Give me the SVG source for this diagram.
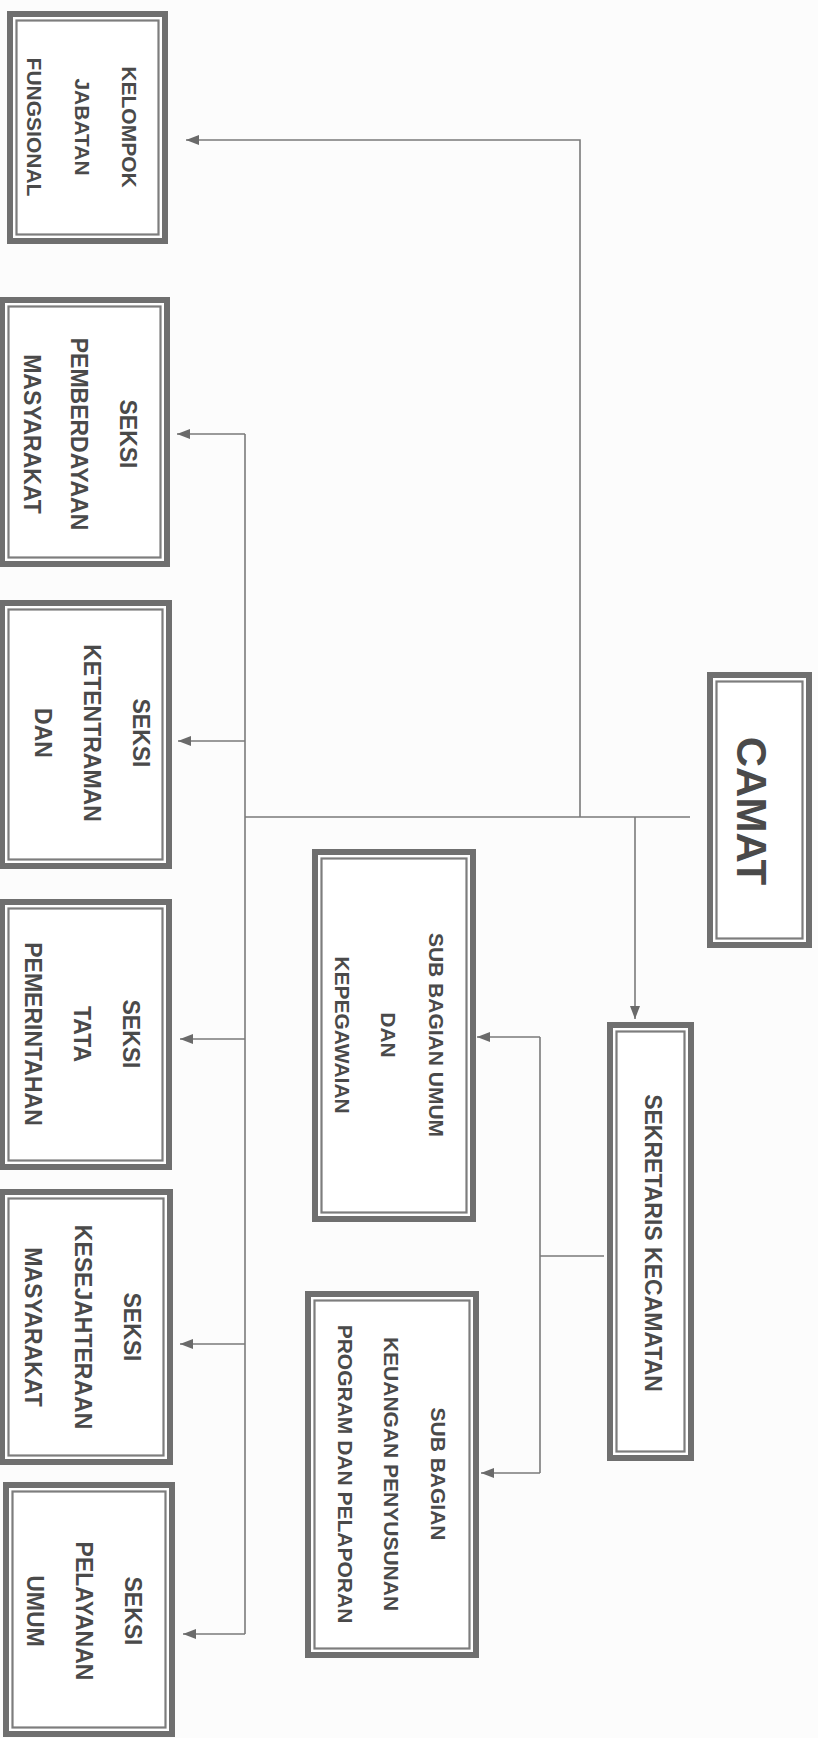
<svg xmlns="http://www.w3.org/2000/svg" width="818" height="1738" viewBox="0 0 818 1738">
<style>
.bo{fill:#fff;stroke:#6f6f6f;stroke-width:6}
.bi{fill:none;stroke:#7d7d7d;stroke-width:2.2}
.t{font-family:"Liberation Sans",Arial,sans-serif;font-weight:bold;fill:#4a4a4a;text-anchor:middle}
.s21{font-size:21px}.s23{font-size:23px}
.c{fill:none;stroke:#7a7a7a;stroke-width:1.6}
</style>
<defs>
<marker id="ah" markerUnits="userSpaceOnUse" markerWidth="14" markerHeight="12" refX="13" refY="5" orient="auto">
<path d="M0,0 L13,5 L0,10 Z" fill="#6a6a6a"/>
</marker>
</defs>
<rect x="0" y="0" width="818" height="1738" fill="#fcfcfc"/>

<g id="connectors">
<path class="c" d="M690,817 H245"/>
<path class="c" d="M580,817 V140 H186" marker-end="url(#ah)"/>
<path class="c" d="M245,434 V1634"/>
<path class="c" d="M245,434 H177" marker-end="url(#ah)"/>
<path class="c" d="M245,741 H178" marker-end="url(#ah)"/>
<path class="c" d="M245,1039 H180" marker-end="url(#ah)"/>
<path class="c" d="M245,1344 H180" marker-end="url(#ah)"/>
<path class="c" d="M245,1634 H183" marker-end="url(#ah)"/>
<path class="c" d="M635,817 V1019" marker-end="url(#ah)"/>
<path class="c" d="M604,1256 H540"/>
<path class="c" d="M540,1037 V1473"/>
<path class="c" d="M540,1037 H477" marker-end="url(#ah)"/>
<path class="c" d="M540,1473 H481" marker-end="url(#ah)"/>
</g>

<g id="kelompok">
<rect class="bo" x="10" y="14" width="155" height="227"/>
<rect class="bi" x="16.5" y="20.5" width="142" height="214"/>
<text class="t s21" transform="translate(121.5,127) rotate(90)">KELOMPOK</text>
<text class="t s21" transform="translate(74.5,127) rotate(90)">JABATAN</text>
<text class="t s21" transform="translate(26.5,127) rotate(90)">FUNGSIONAL</text>
</g>

<g id="pemberdayaan">
<rect class="bo" x="2" y="300" width="165" height="264"/>
<rect class="bi" x="8.5" y="306.5" width="152" height="251"/>
<text class="t s23" transform="translate(120,434) rotate(90)">SEKSI</text>
<text class="t s23" transform="translate(71,434) rotate(90)">PEMBERDAYAAN</text>
<text class="t s23" transform="translate(24,434) rotate(90)">MASYARAKAT</text>
</g>

<g id="ketentraman">
<rect class="bo" x="2" y="603" width="167" height="263"/>
<rect class="bi" x="8.5" y="609.5" width="154" height="250"/>
<text class="t s23" transform="translate(133,733) rotate(90)">SEKSI</text>
<text class="t s23" transform="translate(84,733) rotate(90)">KETENTRAMAN</text>
<text class="t s23" transform="translate(35,733) rotate(90)">DAN</text>
</g>

<g id="tata">
<rect class="bo" x="2" y="902" width="167" height="265"/>
<rect class="bi" x="8.5" y="908.5" width="154" height="252"/>
<text class="t s23" transform="translate(123,1034) rotate(90)">SEKSI</text>
<text class="t s23" transform="translate(74,1034) rotate(90)">TATA</text>
<text class="t s23" transform="translate(25,1034) rotate(90)">PEMERINTAHAN</text>
</g>

<g id="kesejahteraan">
<rect class="bo" x="2" y="1192" width="168" height="270"/>
<rect class="bi" x="8.5" y="1198.5" width="155" height="257"/>
<text class="t s23" transform="translate(124,1327) rotate(90)">SEKSI</text>
<text class="t s23" transform="translate(75,1327) rotate(90)">KESEJAHTERAAN</text>
<text class="t s23" transform="translate(25,1327) rotate(90)">MASYARAKAT</text>
</g>

<g id="pelayanan">
<rect class="bo" x="6" y="1485" width="166" height="249"/>
<rect class="bi" x="12.5" y="1491.5" width="153" height="236"/>
<text class="t s23" transform="translate(125,1611) rotate(90)">SEKSI</text>
<text class="t s23" transform="translate(76,1611) rotate(90)">PELAYANAN</text>
<text class="t s23" transform="translate(27,1611) rotate(90)">UMUM</text>
</g>

<g id="camat">
<rect class="bo" x="710" y="675" width="99" height="270"/>
<rect class="bi" x="716.5" y="681.5" width="86" height="257"/>
<text class="t" style="font-size:42px" transform="translate(737,811) rotate(90)">CAMAT</text>
</g>

<g id="sekretaris">
<rect class="bo" x="610" y="1025" width="81" height="433"/>
<rect class="bi" x="616.5" y="1031.5" width="68" height="420"/>
<text class="t s23" transform="translate(645,1243) rotate(90)">SEKRETARIS KECAMATAN</text>
</g>

<g id="sub-umum">
<rect class="bo" x="315" y="852" width="158" height="367"/>
<rect class="bi" x="321.5" y="858.5" width="145" height="354"/>
<text class="t s21" transform="translate(428.5,1035) rotate(90)">SUB BAGIAN UMUM</text>
<text class="t s21" transform="translate(380.5,1035) rotate(90)">DAN</text>
<text class="t s21" transform="translate(334.5,1035) rotate(90)">KEPEGAWAIAN</text>
</g>

<g id="sub-keuangan">
<rect class="bo" x="308" y="1294" width="168" height="361"/>
<rect class="bi" x="314.5" y="1300.5" width="155" height="348"/>
<text class="t s21" transform="translate(430.5,1474) rotate(90)">SUB BAGIAN</text>
<text class="t s21" transform="translate(383.5,1474) rotate(90)">KEUANGAN PENYUSUNAN</text>
<text class="t s21" transform="translate(337.5,1474) rotate(90)">PROGRAM DAN PELAPORAN</text>
</g>
</svg>
